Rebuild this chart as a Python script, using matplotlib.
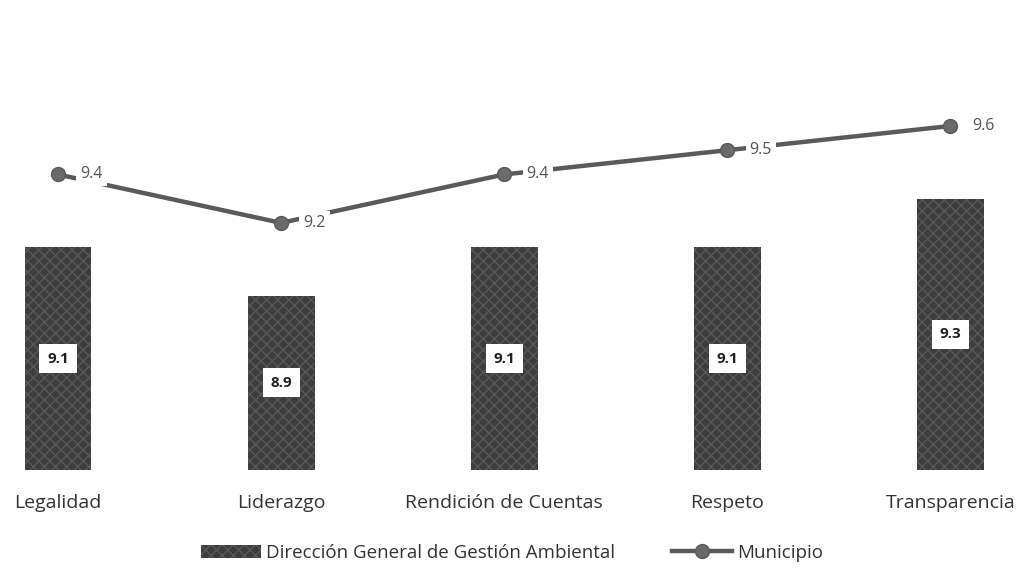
import matplotlib
matplotlib.use("Agg")
import matplotlib.pyplot as plt
import numpy as np

categories = ["Legalidad", "Liderazgo", "Rendición de Cuentas", "Respeto", "Transparencia"]
direccion = [9.1, 8.9, 9.1, 9.1, 9.3]
municipio = [9.4, 9.2, 9.4, 9.5, 9.6]
bar_label = "Dirección General de Gestión Ambiental"
line_label = "Municipio"

plt.rcParams["font.family"] = ["Open Sans", "DejaVu Sans"]

fig = plt.figure(figsize=(10.24, 5.71), dpi=100)
ax = fig.add_axes([0, 101 / 571, 1, 470 / 571])

x = np.arange(len(categories))
base = 8.18
ax.bar(x, np.array(direccion) - base, bottom=base, width=0.30,
       color="#3d3d3d", edgecolor="#585858", hatch="xxx", linewidth=0,
       label=bar_label)
for xi, v in zip(x, direccion):
    ax.text(xi, (v + base) / 2, f"{v:.1f}", ha="center", va="center",
            fontsize=11, fontweight="bold", color="#222222",
            bbox=dict(boxstyle="square,pad=0.5", fc="white", ec="none"))

ax.plot(x, municipio, color="#5a5a5a", lw=3.2, marker="o", ms=10,
        mfc="#6a6a6a", mec="#5a5a5a", label=line_label, zorder=3)
for xi, v in zip(x, municipio):
    ax.text(xi + 0.1, v, f"{v:.1f}", ha="left", va="center",
            fontsize=11.5, color="#555555", zorder=4,
            bbox=dict(boxstyle="square,pad=0.25", fc="white", ec="none"))

ax.set_xlim(-0.26, 4.33)
ax.set_ylim(base, 10.12)
ax.axis("off")

for xi, c in zip(x, categories):
    fig.text((xi + 0.26) / 4.59, 1 - 503 / 571, c, ha="center", va="center",
             fontsize=14, color="#333333")

h, l = ax.get_legend_handles_labels()
fig.legend(h[::-1], l[::-1], loc="center", bbox_to_anchor=(0.5, 1 - 553 / 571),
           ncol=2, frameon=False, fontsize=13.5, handlelength=3.2,
           handletextpad=0.3, columnspacing=3.0, labelcolor="#333333")

fig.savefig("out.png", dpi=100)
